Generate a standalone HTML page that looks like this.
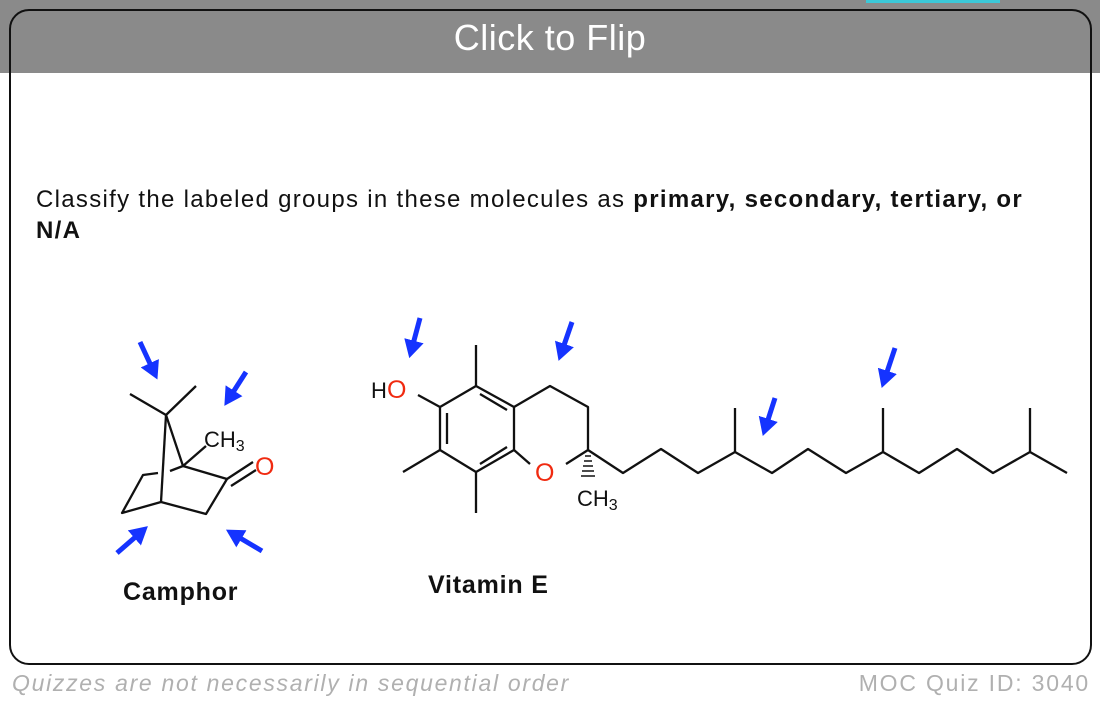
<!DOCTYPE html>
<html><head><meta charset="utf-8"><style>
body{margin:0;width:1100px;height:708px;overflow:hidden;background:#fff;font-family:"Liberation Sans",sans-serif;position:relative}
.band{position:absolute;left:0;top:0;width:1100px;height:73px;background:#8a8a8a}
.card{position:absolute;left:9px;top:9px;width:1079px;height:652px;border:2px solid #111;border-radius:20px;box-sizing:content-box}
.title{position:absolute;left:0;width:1100px;top:17px;text-align:center;color:#fff;font-size:36px;letter-spacing:0.5px}
.q{position:absolute;left:36px;top:184px;font-size:24px;line-height:31px;color:#111;letter-spacing:1.3px;white-space:nowrap}
.foot{position:absolute;top:670px;font-size:23px;color:#b0b0b0}
</style></head><body>
<div class="band"></div>
<div style="position:absolute;left:866px;top:0;width:134px;height:3px;background:#3cc8d8"></div>
<div class="card"></div>
<div class="title">Click to Flip</div>
<div class="q">Classify the labeled groups in these molecules as <b>primary, secondary, tertiary, or<br>N/A</b></div>
<svg width="1100" height="708" style="position:absolute;left:0;top:0" font-family="Liberation Sans, sans-serif">
<defs><marker id="a" markerWidth="3.6" markerHeight="4" refX="1.5" refY="2" orient="auto"><path d="M0,0L3.6,2L0,4z" fill="#1533ff"/></marker></defs>
<g stroke="#111" stroke-width="2.3" fill="none" stroke-linejoin="round">
<path d="M130,394L166,415L196,386"/>
<path d="M166,415L183,466L227,479L206,514L161,502L122,513L143,475L158,473"/>
<path d="M170,471L183,466"/>
<path d="M161,502L166,415"/>
<path d="M183,466L206,446"/>
<path d="M227,479L253,462M231,486L256,470"/>
<path d="M440,407L476,386L514,407L514,450L476,472L440,450Z"/>
<path d="M447,413L447,444M480,394L507,410M480,464L507,447"/>
<path d="M476,386L476,345M476,472L476,513M440,450L403,472M440,407L418,395"/>
<path d="M514,407L550,386L588,407L588,450L566,464M530,464L514,450"/>
<path d="M588,450L623,473L661,449L698,473L735,452L772,473L808,449L846,473L883,452L919,473L957,449L993,473L1030,452L1067,473"/>
<path d="M735,452L735,408M883,452L883,408M1030,452L1030,408"/>
</g>
<g stroke="#111" stroke-width="1.6"><path d="M585,456h6M584,461h8M583,466h10M582,471h12M581,476h14"/></g>
<g fill="#111" font-size="22">
<text x="204" y="447">CH<tspan font-size="16" dy="4">3</tspan></text>
<text x="371" y="398">H</text>
<text x="577" y="506">CH<tspan font-size="16" dy="4">3</tspan></text>
</g>
<g fill="#f02a10" font-size="25">
<text x="255" y="475">O</text><text x="387" y="398">O</text><text x="535" y="481">O</text>
</g>
<g stroke="#1533ff" stroke-width="5" marker-end="url(#a)" fill="none">
<path d="M140,342L153,370"/><path d="M246,372L230,397"/><path d="M117,553L140,533"/><path d="M262,551L235,535"/>
<path d="M420,318L412,348"/><path d="M572,322L562,351"/><path d="M775,398L766,426"/><path d="M895,348L885,378"/>
</g>
<g font-weight="bold" font-size="25" fill="#111">
<text x="123" y="600" letter-spacing="0.8">Camphor</text><text x="428" y="593" letter-spacing="0.8">Vitamin E</text>
</g>
</svg>
<div class="foot" style="left:12px;font-style:italic;letter-spacing:1.7px">Quizzes are not necessarily in sequential order</div>
<div class="foot" style="right:10px;letter-spacing:1.8px">MOC Quiz ID: 3040</div>
</body></html>
